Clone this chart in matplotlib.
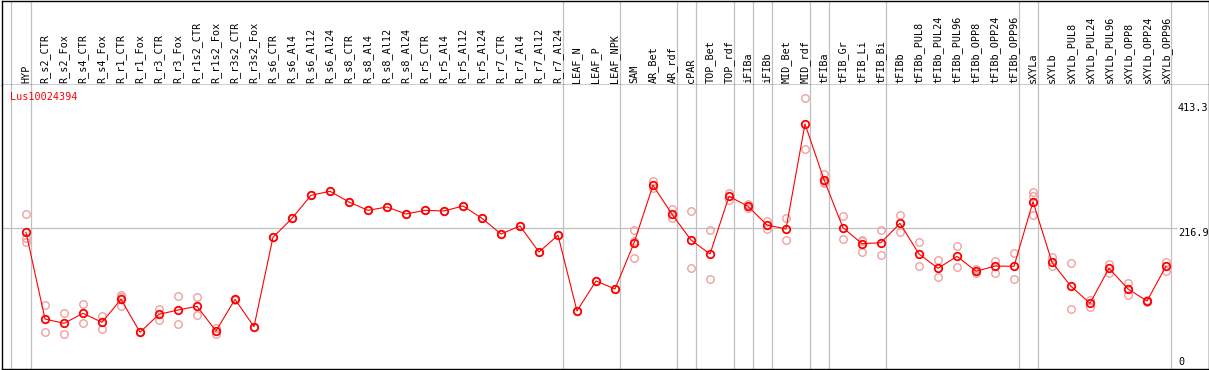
import matplotlib
matplotlib.use("Agg")
import matplotlib.pyplot as plt

gene_id = "Lus10024394"

samples = [
    "HYP", "R_s2_CTR", "R_s2_Fox", "R_s4_CTR", "R_s4_Fox", "R_r1_CTR", "R_r1_Fox",
    "R_r3_CTR", "R_r3_Fox", "R_r1s2_CTR", "R_r1s2_Fox", "R_r3s2_CTR", "R_r3s2_Fox",
    "R_s6_CTR", "R_s6_Al4", "R_s6_Al12", "R_s6_Al24", "R_s8_CTR", "R_s8_Al4",
    "R_s8_Al12", "R_s8_Al24", "R_r5_CTR", "R_r5_Al4", "R_r5_Al12", "R_r5_Al24",
    "R_r7_CTR", "R_r7_Al4", "R_r7_Al12", "R_r7_Al24", "LEAF_N", "LEAF_P", "LEAF_NPK",
    "SAM", "AR_Bet", "AR_rdf", "cPAR", "TOP_Bet", "TOP_rdf", "iFIBa", "iFIBb",
    "MID_Bet", "MID_rdf", "tFIBa", "tFIB_Gr", "tFIB_Li", "tFIB_Bi", "tFIBb",
    "tFIBb_PUL8", "tFIBb_PUL24", "tFIBb_PUL96", "tFIBb_OPP8", "tFIBb_OPP24",
    "tFIBb_OPP96", "sXYLa", "sXYLb", "sXYLb_PUL8", "sXYLb_PUL24", "sXYLb_PUL96",
    "sXYLb_OPP8", "sXYLb_OPP24", "sXYLb_OPP96",
]

mean_values = [
    210.6, 75.1, 68.3, 84.0, 69.9, 105.9, 54.3, 82.4, 89.1, 94.9, 56.3, 105.9, 63.0,
    202.8, 232.5, 268.5, 274.8, 258.0, 245.0, 250.2, 239.3, 245.0, 244.0, 251.8, 232.5,
    208.0, 220.5, 179.8, 206.0, 87.6, 134.5, 122.0,
    193.9, 284.1, 238.8, 198.6, 176.7, 266.9, 251.3, 222.1, 215.8, 380.0,
    292.9, 217.8, 192.8, 194.4, 224.7, 176.7, 154.4, 173.1, 149.7, 157.9, 157.5,
    258.5, 163.7, 126.2, 99.6, 154.4, 122.0, 103.2, 157.5,
]

replicate_values = [
    [239.3, 201.3, 195.9], [96.5, 54.3], [84.0, 51.1], [98.5, 68.3], [79.8, 59.0],
    [113.1, 108.7, 95.9], [54.3], [90.2, 73.5], [110.6, 66.8], [109.5, 81.8],
    [51.1, 61.5], [107.0, 105.0], [63.0],
    [202.8], [232.5], [268.5], [274.8], [258.0], [245.0], [250.2], [239.3], [245.0],
    [244.0], [251.8], [232.5], [208.0], [220.5], [179.8], [206.0], [87.6], [134.5],
    [122.0],
    [214.2, 197.0, 170.0], [291.3, 279.4], [246.6, 232.5], [244.0, 154.4],
    [214.2, 137.2], [272.6, 261.2], [254.9, 249.1], [227.8, 216.3], [233.5, 198.6],
    [420.2, 340.4], [301.8, 287.3, 289.6], [236.1, 200.2], [198.6, 197.0, 179.4],
    [214.2, 175.1], [237.7, 211.6], [195.0, 158.4], [166.9, 140.3], [189.2, 155.9],
    [153.3, 147.5], [165.8, 147.5], [178.3, 137.2],
    [273.7, 267.4, 238.2], [172.5, 157.9], [162.6, 90.7], [104.8, 93.4],
    [161.5, 146.5], [131.4, 112.6], [102.0, 104.4], [164.7, 150.1],
]

# index of the last sample in each group
group_ends = [0, 28, 31, 34, 35, 37, 38, 39, 41, 42, 45, 52, 53, 60]

y_marks = [413.3, 216.9, 0]

W, H = 1209, 370
STEP = 19.0      # pixels between samples
X0 = 26.0        # pixel of first sample
Y_PX = 228.3     # pixel row of 216.9
PX_PER_UNIT = 0.6395

MONO = "DejaVu Sans Mono"
GRID = "#c0c0c0"


def px_to_x(px):
    return (px - X0) / STEP


def py_to_val(py):
    return 216.9 + (Y_PX - py) / PX_PER_UNIT


fig = plt.figure(figsize=(W / 100, H / 100), dpi=100)
fig.patch.set_facecolor("white")

left_px, right_px = 1.5, 1208.5
head_top, head_bot, plot_bot = 0.5, 85.3, 368.7

ax_head = fig.add_axes([left_px / W, 1 - head_bot / H,
                        (right_px - left_px) / W, (head_bot - head_top) / H])
ax = fig.add_axes([left_px / W, 1 - plot_bot / H,
                   (right_px - left_px) / W, (plot_bot - head_bot) / H])

xlim = (px_to_x(left_px), px_to_x(right_px))
for a in (ax_head, ax):
    a.set_xlim(*xlim)
    a.set_xticks([])
    a.set_yticks([])
    for s in a.spines.values():
        s.set_color("black")
        s.set_linewidth(1.0)

ax_head.set_ylim(0, head_bot - head_top)
ax.spines["top"].set_visible(False)
ax.set_ylim(py_to_val(plot_bot), py_to_val(head_bot))

# group separators
bounds = [px_to_x(10.7)] + [g + 0.24 for g in group_ends]
for b in bounds:
    for a in (ax_head, ax):
        a.axvline(b, color=GRID, lw=0.9, zorder=0)

ax.hlines(216.9, xlim[0], px_to_x(1177), color=GRID, lw=0.9, zorder=0)

# sample names
for i, name in enumerate(samples):
    ax_head.text(i, 2.2, name, rotation=90, ha="center", va="bottom",
                 family=MONO, fontsize=7.3, color="black")

# replicates, line, means
for i, reps in enumerate(replicate_values):
    ax.plot([i] * len(reps), reps, linestyle="none", marker="o", ms=5.4,
            mfc="none", mec="#f0a0a0", mew=1.0, zorder=2)
xs = list(range(len(mean_values)))
ax.plot(xs, mean_values, color="red", lw=0.8, zorder=3)
ax.plot(xs, mean_values, linestyle="none", marker="o", ms=5.4, mfc="none",
        mec="red", mew=1.3, zorder=4)

# value marks on the right
tx = px_to_x(1178)
ax.text(tx, y_marks[0], f"{y_marks[0]}", ha="left", va="top", family=MONO, fontsize=7.3)
ax.text(tx, y_marks[1], f"{y_marks[1]}", ha="left", va="top", family=MONO, fontsize=7.3)
ax.text(tx, y_marks[2], f"{y_marks[2]}", ha="left", va="bottom", family=MONO, fontsize=7.3)

ax.text(px_to_x(10), py_to_val(97.5), gene_id, ha="left", va="center",
        family=MONO, fontsize=7.3, color="red")

fig.savefig("out.png", dpi=100)
